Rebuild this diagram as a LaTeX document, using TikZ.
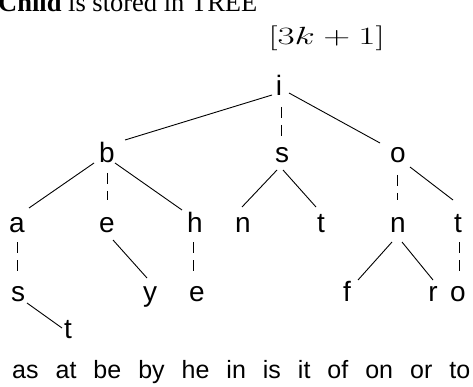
\documentclass[tikz,border=0pt]{standalone}
\usepackage{fontspec}
\setmainfont{Liberation Serif}
\newfontfamily\treefont{Liberation Sans}
\usetikzlibrary{calc}
\newcommand{\ep}[3]{($(#1.base)+(#2,#3)$)}
\begin{document}
\begin{tikzpicture}[x=1pt,y=-1pt,
  letter/.style={font=\treefont\fontsize{28}{28}\selectfont, inner sep=0pt, anchor=base},
  solidedge/.style={draw=black, line width=0.9pt},
  dashedge/.style={draw=black, line width=0.9pt, dash pattern=on 11pt off 7pt}]
\useasboundingbox (0,0) rectangle (473,387);
\clip (0,0) rectangle (473,387);
% title
\node[anchor=base west, inner sep=0pt, font=\fontsize{26.5}{26.5}\selectfont] (title) at (-2,12) {\textbf{Child} is stored in TREE};
\node[anchor=base west, inner sep=0pt, xscale=1.5, transform shape, font=\fontsize{27.5}{27.5}\selectfont] (math) at (268,45) {$[3k+1]$};
% tree letters
\node[letter] (i) at (279,96) {i};
\node[letter] (b) at (107,163) {b};
\node[letter] (s1) at (282,163) {s};
\node[letter] (o1) at (398,163) {o};
\node[letter] (a) at (17,233) {a};
\node[letter] (e1) at (107,233) {e};
\node[letter] (h) at (195,233) {h};
\node[letter] (n1) at (243,233) {n};
\node[letter] (t1) at (321,233) {t};
\node[letter] (n2) at (398,233) {n};
\node[letter] (t2) at (458,233) {t};
\node[letter] (s2) at (18,301) {s};
\node[letter] (y) at (150,301) {y};
\node[letter] (e2) at (197,301) {e};
\node[letter] (f) at (347,301) {f};
\node[letter] (r) at (433,301) {r};
\node[letter] (o2) at (458,301) {o};
\node[letter] (t3) at (68,338) {t};
% words
\node[anchor=base west, inner sep=0pt, font=\treefont\fontsize{25}{25}\selectfont] (words) at (12,378) {\spaceskip=17pt as at be by he in is it of on or to};
% edges
\draw[solidedge] \ep{i}{-7}{-1} -- \ep{b}{18}{-23};
\draw[dashedge] \ep{i}{2}{11} -- \ep{s1}{-1}{-26};
\draw[solidedge] \ep{i}{10}{-3} -- \ep{o1}{-18}{-20};
\draw[solidedge] \ep{b}{-13}{0} -- \ep{a}{12}{-25};
\draw[dashedge] \ep{b}{0}{10} -- \ep{e1}{0}{-33};
\draw[solidedge] \ep{b}{8}{0} -- \ep{h}{-13}{-23};
\draw[solidedge] \ep{s1}{-5}{7} -- \ep{n1}{-1}{-26};
\draw[solidedge] \ep{s1}{1}{7} -- \ep{t1}{-5}{-26};
\draw[dashedge] \ep{o1}{-1}{12} -- \ep{n2}{-1}{-33};
\draw[solidedge] \ep{o1}{12}{4} -- \ep{t2}{-5}{-33};
\draw[dashedge] \ep{a}{0}{9} -- \ep{s2}{-1}{-29};
\draw[solidedge] \ep{e1}{6}{7} -- \ep{y}{-3}{-23};
\draw[dashedge] \ep{h}{-2}{9} -- \ep{e2}{-4}{-29};
\draw[solidedge] \ep{n2}{-6}{9} -- \ep{f}{11}{-21};
\draw[solidedge] \ep{n2}{4}{9} -- \ep{r}{0}{-21};
\draw[dashedge] \ep{t2}{1}{9} -- \ep{o2}{1}{-29};
\draw[solidedge] \ep{s2}{9}{2} -- \ep{t3}{-6}{-10};
\end{tikzpicture}
\end{document}
